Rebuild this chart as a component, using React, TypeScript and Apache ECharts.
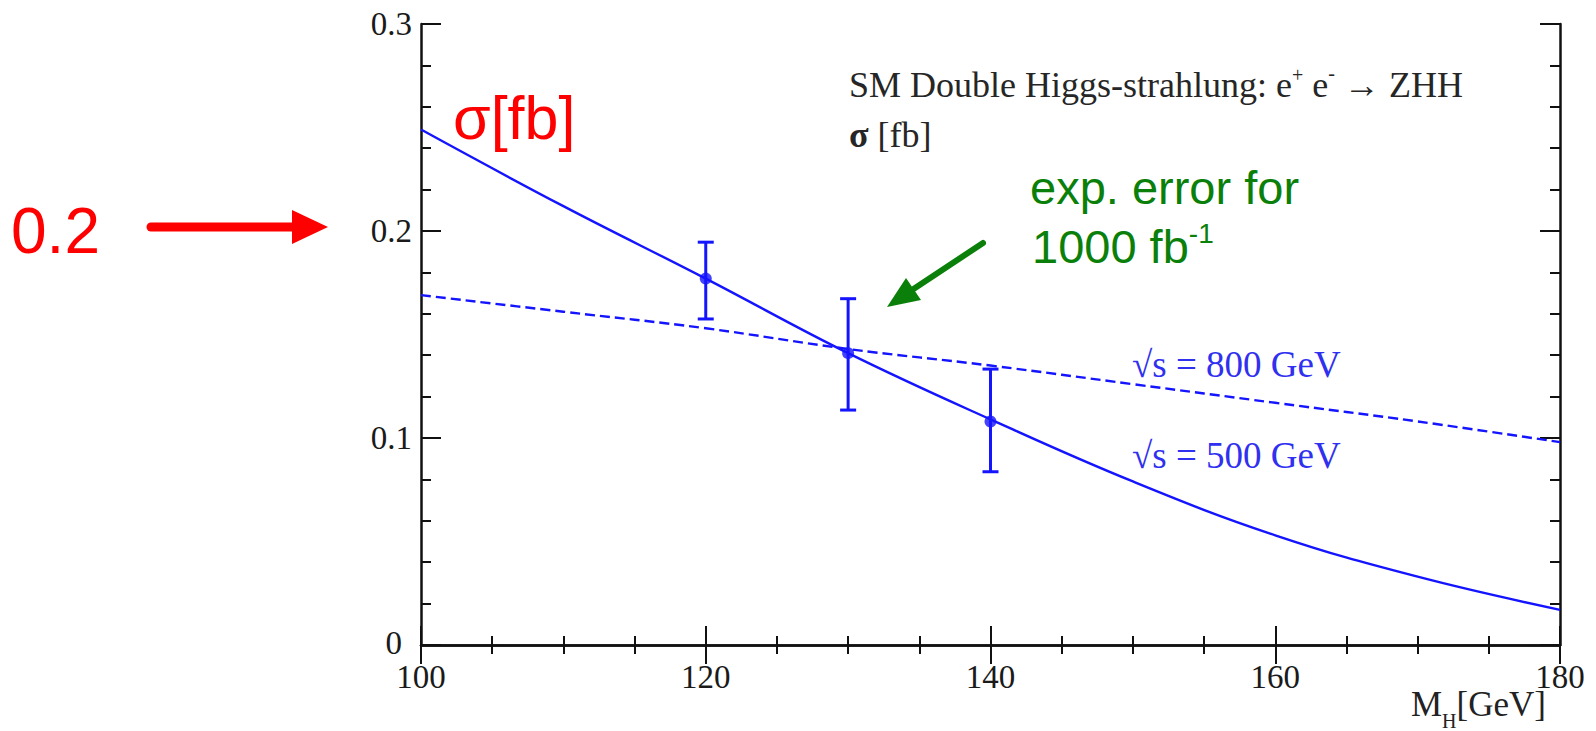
import React, { useEffect, useRef } from "react";
import * as echarts from "echarts";

// ---- data ----
const massGrid = [100, 110, 120, 130, 140, 150, 160, 170, 180];
const sigma500 = [0.249, 0.212, 0.177, 0.141, 0.109, 0.079, 0.053, 0.033, 0.017];
const sigma800 = [0.169, 0.161, 0.153, 0.143, 0.135, 0.126, 0.117, 0.108, 0.098];
const pointMass = [120, 130, 140];
const pointSigma = [0.177, 0.141, 0.108];
const errLow = [0.1575, 0.1135, 0.0837];
const errHigh = [0.1946, 0.1673, 0.1333];
const xRange = [100, 180];
const yRange = [0, 0.3];

const BLUE = "#1414ff";
const LABEL_BLUE = "#3030f0";
const SERIF = "'Liberation Serif', 'Times New Roman', serif";
const SANS = "'Liberation Sans', Arial, sans-serif";

type Piece = { t: string; size: number; family: string; weight?: string; dy?: number };

function buildRun(x: number, baseline: number, pieces: Piece[], color: string) {
  const ctx = document.createElement("canvas").getContext("2d")!;
  const out: any[] = [];
  let cx = x;
  for (const p of pieces) {
    const font = `${p.weight || "normal"} ${p.size}px ${p.family}`;
    ctx.font = font;
    const w = ctx.measureText(p.t).width;
    out.push({
      type: "text",
      x: cx,
      y: baseline + (p.dy || 0) - 0.34 * p.size,
      silent: true,
      style: {
        text: p.t,
        font,
        fill: color,
        textAlign: "left",
        textVerticalAlign: "middle",
      },
    });
    cx += w;
  }
  return out;
}

export default function App() {
  const ref = useRef<HTMLDivElement>(null);

  useEffect(() => {
    if (!ref.current) return;
    const chart = echarts.init(ref.current, undefined, { renderer: "svg" });

    const axisCommon = {
      type: "value" as const,
      axisLine: { show: true, lineStyle: { color: "#111", width: 2.5 } },
      splitLine: { show: false },
    };

    const graphics: any[] = [
      ...buildRun(849, 97, [
        { t: "SM Double Higgs-strahlung: e", size: 36, family: SERIF },
        { t: "+", size: 20, family: SERIF, dy: -15 },
        { t: " e", size: 36, family: SERIF },
        { t: "-", size: 20, family: SERIF, dy: -17 },
        { t: " \u2192 ZHH", size: 36, family: SERIF },
      ], "#262626"),
      ...buildRun(849, 147, [
        { t: "\u03c3", size: 36, family: SERIF, weight: "bold" },
        { t: " [fb]", size: 36, family: SERIF },
      ], "#262626"),
      ...buildRun(1132, 377, [{ t: "\u221as = 800 GeV", size: 37, family: SERIF }], LABEL_BLUE),
      ...buildRun(1132, 468, [{ t: "\u221as = 500 GeV", size: 37, family: SERIF }], LABEL_BLUE),
      ...buildRun(1411, 716, [
        { t: "M", size: 35, family: SERIF },
        { t: "H", size: 20, family: SERIF, dy: 12 },
        { t: "[GeV]", size: 35, family: SERIF },
      ], "#222"),
      ...buildRun(453, 139, [{ t: "\u03c3[fb]", size: 61, family: SANS }], "#ff0000"),
      ...buildRun(11, 253, [{ t: "0.2", size: 64, family: SANS }], "#ff0000"),
      ...buildRun(1030, 203, [{ t: "exp. error for", size: 47, family: SANS }], "#0a800a"),
      ...buildRun(1032, 262, [
        { t: "1000 fb", size: 47, family: SANS },
        { t: "-1", size: 28, family: SANS, dy: -19 },
      ], "#0a800a"),
      // red arrow
      {
        type: "line",
        silent: true,
        shape: { x1: 151, y1: 227, x2: 296, y2: 227 },
        style: { stroke: "#ff0000", lineWidth: 9, lineCap: "round" },
      },
      {
        type: "polygon",
        silent: true,
        shape: { points: [[292, 210], [328, 227], [292, 244]] },
        style: { fill: "#ff0000" },
      },
      // green arrow
      {
        type: "line",
        silent: true,
        shape: { x1: 983, y1: 243, x2: 912, y2: 290 },
        style: { stroke: "#0a800a", lineWidth: 6, lineCap: "round" },
      },
      {
        type: "polygon",
        silent: true,
        shape: { points: [[887, 307], [921, 300], [906, 278]] },
        style: { fill: "#0a800a" },
      },
    ];

    const tickStyle = { color: "#111", width: 2 };

    const option: any = {
      animation: false,
      backgroundColor: "#ffffff",
      grid: { left: 421, top: 24, right: 36, bottom: 86, containLabel: false },
      xAxis: [
        {
          ...axisCommon,
          position: "bottom",
          min: xRange[0],
          max: xRange[1],
          interval: 20,
          axisTick: { show: true, inside: true, length: 19, lineStyle: tickStyle },
          minorTick: { show: true, splitNumber: 4, length: 9, lineStyle: tickStyle },
          axisLabel: {
            show: true,
            margin: 19,
            fontFamily: SERIF,
            fontSize: 33,
            lineHeight: 26,
            color: "#1a1a1a",
          },
        },
        {
          ...axisCommon,
          position: "top",
          min: xRange[0],
          max: xRange[1],
          interval: 20,
          axisTick: { show: true, inside: true, length: 19, lineStyle: tickStyle },
          minorTick: { show: true, splitNumber: 4, length: 9, lineStyle: tickStyle },
          axisLabel: { show: false },
        },
      ],
      yAxis: [
        {
          ...axisCommon,
          position: "left",
          min: yRange[0],
          max: yRange[1],
          interval: 0.1,
          axisTick: { show: true, inside: true, length: 20, lineStyle: tickStyle },
          minorTick: { show: true, splitNumber: 5, length: 10, lineStyle: tickStyle },
          axisLabel: {
            show: true,
            margin: 9,
            fontFamily: SERIF,
            fontSize: 33,
            lineHeight: 26,
            color: "#1a1a1a",
            formatter: (v: number) => (v === 0 ? "{z|0}" : v.toFixed(1)),
            rich: {
              z: {
                fontFamily: SERIF,
                fontSize: 33,
                lineHeight: 26,
                color: "#1a1a1a",
                padding: [0, 10, 4, 0],
              },
            },
          },
        },
        {
          ...axisCommon,
          position: "right",
          min: yRange[0],
          max: yRange[1],
          interval: 0.1,
          axisTick: { show: true, inside: true, length: 20, lineStyle: tickStyle },
          minorTick: { show: true, splitNumber: 5, length: 10, lineStyle: tickStyle },
          axisLabel: { show: false },
        },
      ],
      series: [
        {
          name: "sqrt(s) = 500 GeV",
          type: "line",
          xAxisIndex: 0,
          yAxisIndex: 0,
          data: massGrid.map((m, i) => [m, sigma500[i]]),
          smooth: 0.4,
          showSymbol: false,
          lineStyle: { color: BLUE, width: 2.4 },
          z: 3,
        },
        {
          name: "sqrt(s) = 800 GeV",
          type: "line",
          xAxisIndex: 0,
          yAxisIndex: 0,
          data: massGrid.map((m, i) => [m, sigma800[i]]),
          smooth: 0.4,
          showSymbol: false,
          lineStyle: { color: BLUE, width: 2.4, type: [10, 5] },
          z: 3,
        },
        {
          name: "error bars",
          type: "custom",
          xAxisIndex: 0,
          yAxisIndex: 0,
          data: pointMass.map((m, i) => [m, pointSigma[i], errLow[i], errHigh[i]]),
          encode: { x: 0, y: [1, 2, 3] },
          renderItem: (params: any, api: any) => {
            const x = api.value(0);
            const lo = api.coord([x, api.value(2)]);
            const hi = api.coord([x, api.value(3)]);
            const cap = 8;
            const st = { stroke: BLUE, lineWidth: 3 };
            return {
              type: "group",
              children: [
                { type: "line", shape: { x1: lo[0], y1: lo[1], x2: hi[0], y2: hi[1] }, style: st },
                { type: "line", shape: { x1: lo[0] - cap, y1: lo[1], x2: lo[0] + cap, y2: lo[1] }, style: st },
                { type: "line", shape: { x1: hi[0] - cap, y1: hi[1], x2: hi[0] + cap, y2: hi[1] }, style: st },
              ],
            };
          },
          z: 4,
        },
        {
          name: "points",
          type: "scatter",
          xAxisIndex: 0,
          yAxisIndex: 0,
          data: pointMass.map((m, i) => [m, pointSigma[i]]),
          symbol: "circle",
          symbolSize: 12,
          itemStyle: { color: BLUE },
          z: 5,
        },
      ],
      graphic: graphics,
    };

    chart.setOption(option);
    return () => chart.dispose();
  }, []);

  return (
    <div
      ref={ref}
      style={{ position: "fixed", left: 0, top: 0, width: 1596, height: 731, background: "#fff" }}
    />
  );
}
